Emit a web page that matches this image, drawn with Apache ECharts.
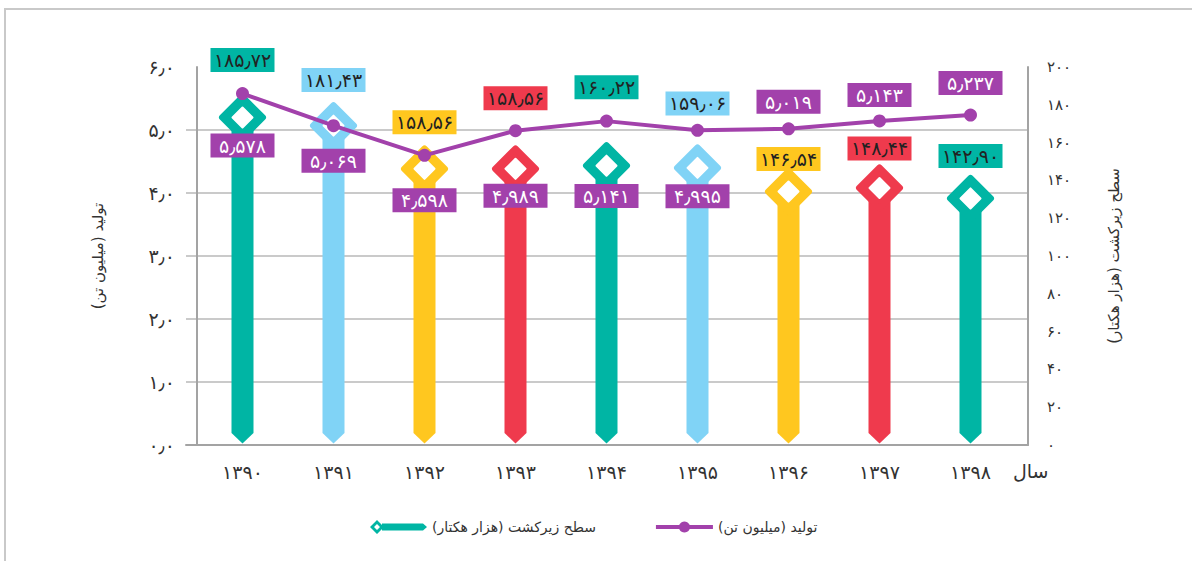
<!DOCTYPE html>
<html>
<head>
<meta charset="utf-8">
<script src="https://cdn.jsdelivr.net/npm/echarts@6.0.0/dist/echarts.min.js"></script>
<style>
  html, body { margin: 0; padding: 0; background: #fff; }
  #chart { width: 1192px; height: 561px; }
</style>
</head>
<body>
<div id="chart"></div>
<script>
// data
const years = ['۱۳۹۰', '۱۳۹۱', '۱۳۹۲', '۱۳۹۳', '۱۳۹۴', '۱۳۹۵', '۱۳۹۶', '۱۳۹۷', '۱۳۹۸']
const areaValues = [185.72, 181.43, 158.56, 158.56, 160.22, 159.06, 146.54, 148.44, 142.90]
const prodValues = [5.578, 5.069, 4.598, 4.989, 5.141, 4.995, 5.019, 5.143, 5.237]

// names (RLM at the end keeps the closing bracket in the RTL run)
const areaName = 'سطح زیرکشت (هزار هکتار)\u200F'
const prodName = 'تولید (میلیون تن)\u200F'
const yearName = 'سال'

// styles
const TEAL = '#00b5a4'
const BLUE = '#80d3f6'
const YELLOW = '#ffc71f'
const RED = '#ef3a4d'
const PURPLE = '#a241ab'
const barColors = [TEAL, BLUE, YELLOW, RED, TEAL, BLUE, YELLOW, RED, TEAL]
const areaLabelDy = [-34, -22, -23, -47, -55, -41, -9, -16, -19]
const prodLabelDy = [52, 35, 45, 65, 75, 66, -27, -26, -32]
const FONT = 'DejaVu Sans'
const GRID_C = '#b9b9b9'
const AXIS_C = '#a3a3a3'

const faDigits = '۰۱۲۳۴۵۶۷۸۹'
const toFa = s => String(s).replace(/\d/g, d => faDigits[d]).replace('.', '٫')

const chart = echarts.init(document.getElementById('chart'), null, { renderer: 'svg' })

const renderBar = (params, api) => {
  const i = api.value(0)
  const top = api.coord([i, api.value(1)])
  const base = api.coord([i, 0])
  const color = barColors[params.dataIndex]
  const cx = top[0]
  const cy = top[1] + 23.5
  const hw = 11
  const d = 20.5
  const inner = 10
  return {
    type: 'group',
    children: [
      {
        type: 'polygon',
        shape: { points: [[cx - hw, cy], [cx + hw, cy], [cx + hw, base[1] - 12], [cx, base[1] - 1.5], [cx - hw, base[1] - 12]] },
        style: { fill: color }
      },
      {
        type: 'polygon',
        shape: { points: [[cx, cy - d], [cx + d, cy], [cx, cy + d], [cx - d, cy]] },
        style: { fill: color, stroke: color, lineWidth: 6, lineJoin: 'round' }
      },
      {
        type: 'polygon',
        shape: { points: [[cx, cy - inner], [cx + inner, cy], [cx, cy + inner], [cx - inner, cy]] },
        style: { fill: '#fff', stroke: '#fff', lineWidth: 2, lineJoin: 'round' }
      }
    ]
  }
}

const option = {
  animation: false,
  textStyle: { fontFamily: FONT },
  graphic: [
    {
      type: 'rect',
      silent: true,
      shape: { x: 5, y: 9, width: 1300, height: 700 },
      style: { fill: 'none', stroke: '#c9c9c9', lineWidth: 2 }
    }
  ],
  legend: {
    left: 365,
    top: 515,
    itemWidth: 57,
    itemHeight: 14,
    itemGap: 58,
    textStyle: { fontFamily: FONT, fontSize: 14, color: '#333' },
    data: [
      {
        name: areaName,
        icon: 'path://M0,7 L7,0 L14,7 L7,14 Z M4,7 L7,10 L10,7 L7,4 Z M12,3.5 L53,3.5 L57,7 L53,10.5 L12,10.5 Z',
        itemStyle: { color: TEAL }
      },
      { name: prodName, lineStyle: { width: 4 } }
    ]
  },
  grid: [
    { left: 186, right: 164, top: 67, bottom: 116 },
    { left: 197, right: 176, top: 67, bottom: 116 }
  ],
  xAxis: [
    {
      gridIndex: 0,
      type: 'category',
      data: years,
      axisLine: { lineStyle: { color: AXIS_C, width: 2 } },
      axisTick: { show: false },
      axisLabel: { show: false }
    },
    {
      gridIndex: 1,
      type: 'category',
      data: years,
      name: yearName,
      nameLocation: 'end',
      nameGap: -3,
      nameTextStyle: { fontFamily: FONT, fontSize: 19, color: '#333', verticalAlign: 'top', padding: [16, 0, 0, 0] },
      axisLine: { lineStyle: { color: AXIS_C, width: 2 } },
      axisTick: { alignWithLabel: true, length: 8, lineStyle: { color: AXIS_C, width: 2 } },
      axisLabel: { margin: 17, fontFamily: FONT, fontSize: 19, color: '#333' }
    }
  ],
  yAxis: [
    {
      gridIndex: 0,
      type: 'value',
      position: 'left',
      offset: -11,
      min: 0,
      max: 6,
      interval: 1,
      name: prodName,
      nameLocation: 'middle',
      nameRotate: 90,
      nameGap: 92,
      nameTextStyle: { fontFamily: FONT, fontSize: 15, color: '#333' },
      axisLine: { show: true, lineStyle: { color: AXIS_C, width: 2 } },
      axisTick: { show: false },
      axisLabel: { margin: 22, fontFamily: FONT, fontSize: 19, color: '#333', formatter: v => toFa(v.toFixed(1)) },
      splitLine: { show: true, lineStyle: { color: [GRID_C, GRID_C, GRID_C, GRID_C, GRID_C, GRID_C, 'rgba(0,0,0,0)'], width: 1.5 } }
    },
    {
      gridIndex: 0,
      type: 'value',
      position: 'right',
      min: 0,
      max: 200,
      interval: 20,
      name: areaName,
      nameLocation: 'middle',
      nameRotate: 90,
      nameGap: 78,
      nameTextStyle: { fontFamily: FONT, fontSize: 15, color: '#333' },
      axisLine: { show: true, lineStyle: { color: AXIS_C, width: 2 } },
      axisTick: { show: false },
      axisLabel: { margin: 19, fontFamily: FONT, fontSize: 15, color: '#333', formatter: v => toFa(v) },
      splitLine: { show: false }
    },
    { gridIndex: 1, type: 'value', min: 0, max: 6, show: false },
    { gridIndex: 1, type: 'value', min: 0, max: 200, show: false }
  ],
  series: [
    {
      name: areaName,
      type: 'custom',
      xAxisIndex: 1,
      yAxisIndex: 3,
      z: 2,
      itemStyle: { color: TEAL },
      encode: { x: 0, y: 1 },
      data: areaValues.map((v, i) => [i, v]),
      renderItem: renderBar
    },
    {
      name: prodName,
      type: 'line',
      xAxisIndex: 1,
      yAxisIndex: 2,
      z: 3,
      symbol: 'circle',
      symbolSize: 13,
      lineStyle: { color: PURPLE, width: 4 },
      itemStyle: { color: PURPLE },
      label: {
        show: true,
        position: 'inside',
        fontFamily: FONT,
        fontSize: 19,
        color: '#fff',
        backgroundColor: PURPLE,
        width: 64,
        height: 24,
        lineHeight: 24,
        align: 'center',
        formatter: p => toFa(p.value.toFixed(3))
      },
      data: prodValues.map((v, i) => ({ value: v, label: { offset: [0, prodLabelDy[i]] } }))
    },
    {
      name: 'areaLabels',
      type: 'scatter',
      xAxisIndex: 1,
      yAxisIndex: 3,
      z: 4,
      symbolSize: 1,
      itemStyle: { color: 'rgba(0,0,0,0)', opacity: 1 },
      silent: true,
      label: {
        show: true,
        position: 'inside',
        fontFamily: FONT,
        fontSize: 19,
        color: '#222',
        width: 64,
        height: 24,
        lineHeight: 24,
        align: 'center',
        formatter: p => toFa(p.value.toFixed(2))
      },
      data: areaValues.map((v, i) => ({
        value: v,
        label: { backgroundColor: barColors[i], offset: [0, areaLabelDy[i]] }
      }))
    }
  ]
}

chart.setOption(option)
window.addEventListener('resize', () => chart.resize())
</script>
</body>
</html>
